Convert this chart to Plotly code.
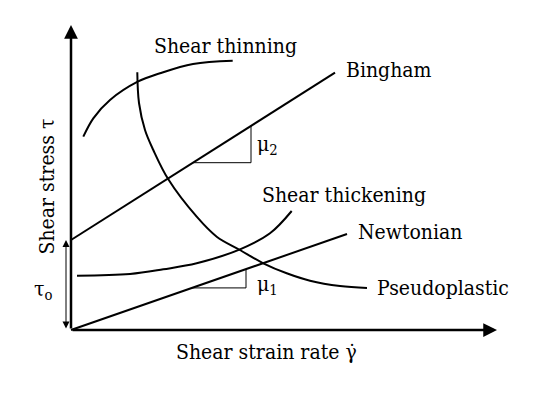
import plotly.graph_objects as go

# ---- data (schematic units: origin at axes origin) ----
newtonian_x = [0, 276]
newtonian_y = [0, 96]

bingham_x = [0, 264]
bingham_y = [90, 257.3]

thickening_x = [6, 59, 92.3, 125.7, 169, 199, 220.7]
thickening_y = [54.3, 56, 60.7, 66.7, 80.7, 96.7, 119]

thinning_x = [12.3, 22.3, 39, 66.7, 89, 122, 161.7]
thinning_y = [193.3, 211.7, 230, 248.3, 256.7, 266, 269.3]

pseudo_x = [66.3, 68, 74, 82.3, 97.3, 125.7, 145.7, 169, 192.3, 215.7, 239, 269, 296]
pseudo_y = [257.7, 227, 200, 180, 150.7, 113.3, 93.3, 80, 66.7, 56.7, 49.3, 44, 42]

mu2_x = [122, 180]
mu1_x = [121, 175]

tau0 = bingham_y[0]
tau0_x = -5
x_axis_end = 426
y_axis_end = 305

labels = {
    "Shear thinning": (81, 284),
    "Bingham": (273, 260),
    "μ<sub>2</sub>": (184, 185),
    "Shear thickening": (189, 135),
    "Newtonian": (285, 98),
    "μ<sub>1</sub>": (184, 45),
    "Pseudoplastic": (304, 42),
}

FONT = "DejaVu Serif Condensed, DejaVu Serif"
FS = 21


def line_y(xs, ys, x):
    return ys[0] + (ys[1] - ys[0]) * (x - xs[0]) / (xs[1] - xs[0])


fig = go.Figure()
curve = dict(color="black", width=2)

fig.add_trace(go.Scatter(x=newtonian_x, y=newtonian_y, mode="lines", line=curve))
fig.add_trace(go.Scatter(x=bingham_x, y=bingham_y, mode="lines", line=curve))
fig.add_trace(go.Scatter(x=thickening_x, y=thickening_y, mode="lines",
                         line=dict(color="black", width=2, shape="spline", smoothing=1)))
fig.add_trace(go.Scatter(x=thinning_x, y=thinning_y, mode="lines",
                         line=dict(color="black", width=2, shape="spline", smoothing=1)))
fig.add_trace(go.Scatter(x=pseudo_x, y=pseudo_y, mode="lines",
                         line=dict(color="black", width=2, shape="spline", smoothing=1)))

for tx, lx, ly in [(mu2_x, bingham_x, bingham_y), (mu1_x, newtonian_x, newtonian_y)]:
    y0 = line_y(lx, ly, tx[0])
    y1 = line_y(lx, ly, tx[1])
    fig.add_trace(go.Scatter(x=[tx[0], tx[1], tx[1]], y=[y0, y0, y1], mode="lines",
                             line=dict(color="black", width=1)))

anns = []
# axes with arrowheads
anns.append(dict(x=0, y=y_axis_end, ax=0, ay=0, xref="x", yref="y", axref="x", ayref="y",
                 showarrow=True, arrowhead=2, arrowsize=1.1, arrowwidth=2.5, arrowcolor="black", text=""))
anns.append(dict(x=x_axis_end, y=0, ax=0, ay=0, xref="x", yref="y", axref="x", ayref="y",
                 showarrow=True, arrowhead=2, arrowsize=1.1, arrowwidth=2.5, arrowcolor="black", text=""))
# tau0 double arrow
anns.append(dict(x=tau0_x, y=tau0, ax=tau0_x, ay=0, xref="x", yref="y", axref="x", ayref="y",
                 showarrow=True, arrowhead=2, startarrowhead=2, arrowside="end+start",
                 arrowsize=1.4, startarrowsize=1.4, arrowwidth=1, arrowcolor="black", text=""))

for t, (x, y) in labels.items():
    anns.append(dict(x=x, y=y, xref="x", yref="y", text=t, showarrow=False,
                     xanchor="left", yanchor="middle", font=dict(family=FONT, size=FS, color="black")))

anns.append(dict(x=-39, y=40, xref="x", yref="y", text="τ<sub>o</sub>", showarrow=False,
                 xanchor="left", yanchor="middle", font=dict(family=FONT, size=FS, color="black")))
anns.append(dict(x=195, y=-22, xref="x", yref="y", text="Shear strain rate γ̇", showarrow=False,
                 xanchor="center", yanchor="middle", font=dict(family=FONT, size=FS, color="black")))
anns.append(dict(x=-24.5, y=143, xref="x", yref="y", text="Shear stress τ", showarrow=False,
                 textangle=-90, xanchor="center", yanchor="middle",
                 font=dict(family=FONT, size=FS, color="black")))

# page body has an 8px margin: figure is sized to fit the window from that offset
fig.update_layout(
    width=543, height=388,
    margin=dict(l=0, r=0, t=0, b=0),
    paper_bgcolor="white", plot_bgcolor="white",
    showlegend=False,
    font=dict(family=FONT, size=FS, color="black"),
    xaxis=dict(range=[-63, 480], visible=False, fixedrange=True),
    yaxis=dict(range=[-66, 322], visible=False, fixedrange=True),
    annotations=anns,
)

fig.write_html("out.html")
